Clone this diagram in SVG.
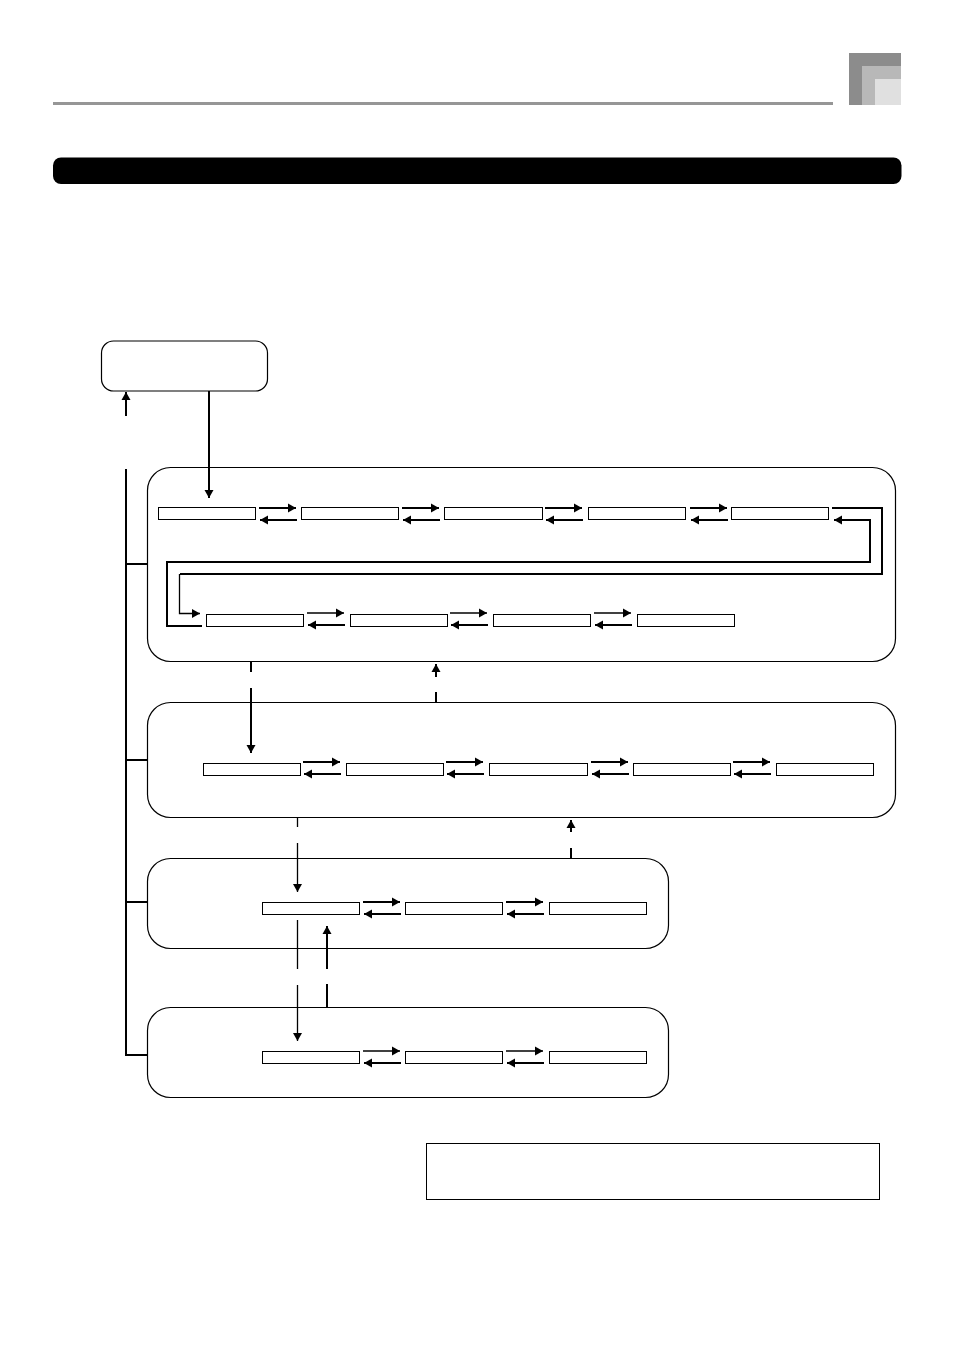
<svg xmlns="http://www.w3.org/2000/svg" width="954" height="1348" viewBox="0 0 954 1348">
<style>
.panel{fill:#fff;stroke:#000;stroke-width:1.2}
.cell{fill:#fff;stroke:#000;stroke-width:1}
.th{fill:none;stroke:#000;stroke-width:2}
.tn{fill:none;stroke:#000;stroke-width:1.3}
</style>
<defs>
<marker id="a" markerUnits="userSpaceOnUse" markerWidth="9" markerHeight="10" refX="8" refY="5" orient="auto"><path d="M0 0.500L8 5L0 9.500Z" fill="#000"/></marker>
<g id="pair"><path class="th" d="M0 0H37" marker-end="url(#a)"/><path class="th" d="M38 12H1" marker-end="url(#a)"/></g>
<g id="pair2"><path class="tn" d="M0 0H37" marker-end="url(#a)"/><path class="th" d="M38 12H1" marker-end="url(#a)"/></g>
</defs>
<rect x="53" y="102" width="780" height="3" fill="#969696"/>
<rect x="849" y="53" width="52" height="52" fill="#8c8c8c"/>
<rect x="862" y="66" width="39" height="39" fill="#b8b8b8"/>
<rect x="875" y="79" width="26" height="26" fill="#e0e0e0"/>
<rect x="53" y="157.500" width="848.500" height="26.500" rx="8" fill="#000"/>
<g id="start"><rect class="panel" x="101.500" y="341" width="166" height="50" rx="12"/></g>
<g id="panel1"><rect class="panel" x="147.500" y="467.500" width="748" height="194" rx="23"/></g>
<g id="panel2"><rect class="panel" x="147.500" y="702.500" width="748" height="115" rx="23"/></g>
<g id="panel3"><rect class="panel" x="147.500" y="858.500" width="521" height="90" rx="23"/></g>
<g id="panel4"><rect class="panel" x="147.500" y="1007.500" width="521" height="90" rx="23"/></g>
<g id="note"><rect class="cell" x="426.500" y="1143.500" width="453" height="56"/></g>
<g id="cells">
<rect class="cell" x="158.500" y="507.500" width="97" height="12"/>
<rect class="cell" x="301.500" y="507.500" width="97" height="12"/>
<rect class="cell" x="444.500" y="507.500" width="98" height="12"/>
<rect class="cell" x="588.500" y="507.500" width="97" height="12"/>
<rect class="cell" x="731.500" y="507.500" width="97" height="12"/>
<rect class="cell" x="206.500" y="614.500" width="97" height="12"/>
<rect class="cell" x="350.500" y="614.500" width="97" height="12"/>
<rect class="cell" x="493.500" y="614.500" width="97" height="12"/>
<rect class="cell" x="637.500" y="614.500" width="97" height="12"/>
<rect class="cell" x="203.500" y="763.500" width="97" height="12"/>
<rect class="cell" x="346.500" y="763.500" width="97" height="12"/>
<rect class="cell" x="489.500" y="763.500" width="98" height="12"/>
<rect class="cell" x="633.500" y="763.500" width="97" height="12"/>
<rect class="cell" x="776.500" y="763.500" width="97" height="12"/>
<rect class="cell" x="262.500" y="902.500" width="97" height="12"/>
<rect class="cell" x="405.500" y="902.500" width="97" height="12"/>
<rect class="cell" x="549.500" y="902.500" width="97" height="12"/>
<rect class="cell" x="262.500" y="1051.500" width="97" height="12"/>
<rect class="cell" x="405.500" y="1051.500" width="97" height="12"/>
<rect class="cell" x="549.500" y="1051.500" width="97" height="12"/>
</g>
<g id="connectors">
<use href="#pair" x="259" y="508"/><use href="#pair" x="402" y="508"/><use href="#pair" x="545" y="508"/><use href="#pair" x="690" y="508"/>
<use href="#pair2" x="307" y="613"/><use href="#pair2" x="450" y="613"/><use href="#pair2" x="594" y="613"/>
<use href="#pair" x="303" y="762"/><use href="#pair" x="446" y="762"/><use href="#pair" x="591" y="762"/><use href="#pair" x="733" y="762"/>
<use href="#pair" x="363" y="902"/><use href="#pair" x="506" y="902"/>
<use href="#pair2" x="363" y="1051"/><use href="#pair2" x="506" y="1051"/>
<path class="th" d="M209 391V498" marker-end="url(#a)"/>
<path class="th" d="M126 416V392" marker-end="url(#a)"/>
<path class="th" d="M126 469V1055H147M126 564H147M126 760H147M126 902H147"/>
<path class="th" d="M832 508H882V574H180"/>
<path class="tn" d="M179.500 574V613.500H200" marker-end="url(#a)"/>
<path class="th" d="M167 562H870V520H834" marker-end="url(#a)"/>
<path class="th" d="M167 561V626H202"/>
<path class="th" d="M251 662V672M251 688V753" marker-end="url(#a)"/>
<path class="th" d="M436 702V692M436 677V664" marker-end="url(#a)"/>
<path class="tn" d="M297.500 818V827M297.500 843V892" marker-end="url(#a)"/>
<path class="th" d="M571 858V848M571 832V820" marker-end="url(#a)"/>
<path class="tn" d="M297.500 920V969M297.500 985V1041" marker-end="url(#a)"/>
<path class="th" d="M327 1007V984M327 969V926" marker-end="url(#a)"/>
</g>
</svg>
